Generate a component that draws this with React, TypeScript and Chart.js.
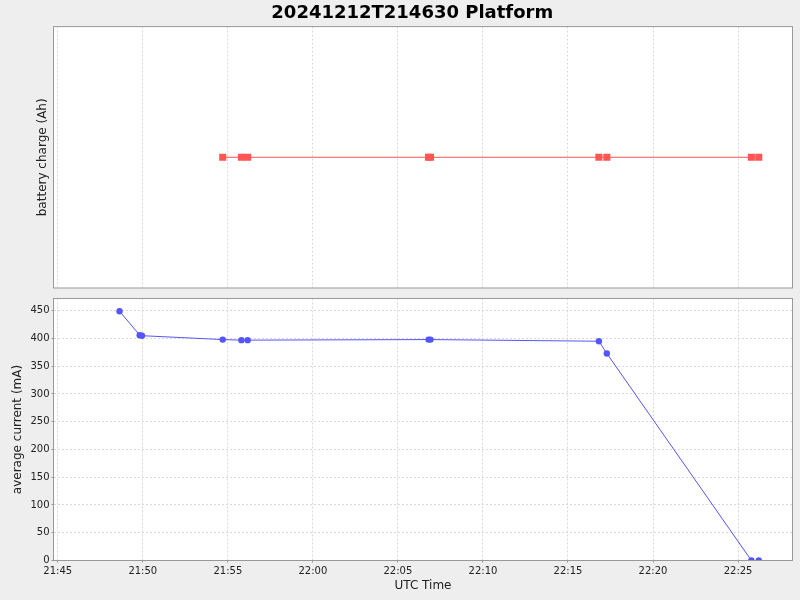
import React, { useRef, useEffect } from 'react';
import { Chart, registerables } from 'chart.js';

Chart.register(...registerables);

// bottom plot: average current per sample
const currentTimes = [
    '21:48:38', '21:49:49', '21:49:57', '21:54:42', '21:55:48', '21:56:10',
    '22:06:48', '22:06:55', '22:16:49', '22:17:17', '22:25:47', '22:26:13',
];
const currentValues = [449, 406, 405, 398, 397, 397, 398, 398, 395, 373, 0, 0];

// top plot: battery charge (constant, no tick labels in the original)
const chargeTimes = [
    '21:54:42', '21:55:48', '21:56:10', '22:06:48', '22:06:55',
    '22:16:49', '22:17:17', '22:25:47', '22:26:13',
];
const chargeValues = [0, 0, 0, 0, 0, 0, 0, 0, 0];

const xStart = '21:44:45';
const xEnd = '22:28:12';
const xTickStep = 300; // seconds
const currentMax = 472;
const currentStep = 50;

const toSec = (t: string) => {
    const [h, m, s] = t.split(':').map(Number);
    return h * 3600 + m * 60 + (s || 0);
};
const fmtTime = (v: number) => {
    const h = Math.floor(v / 3600);
    const m = Math.round((v % 3600) / 60);
    return `${h}:${String(m).padStart(2, '0')}`;
};

const FONT = 'DejaVu Sans';
const TEXT = '#222';
const AXIS = '#999';
const GRID = '#d8d8d8';

// white plot area + grey outline, like the original
const plotFrame = {
    id: 'plotFrame',
    beforeDraw(chart: any) {
        const { ctx, chartArea: a } = chart;
        ctx.save();
        ctx.fillStyle = '#ffffff';
        ctx.fillRect(a.left, a.top, a.right - a.left, a.bottom - a.top);
        ctx.restore();
    },
    afterDraw(chart: any) {
        const { ctx, chartArea: a } = chart;
        ctx.save();
        ctx.strokeStyle = AXIS;
        ctx.lineWidth = 1;
        ctx.strokeRect(a.left, a.top, a.right - a.left, a.bottom - a.top);
        ctx.restore();
    },
};

const gridOpts = (ticks: boolean) => ({
    display: true,
    color: GRID,
    drawTicks: ticks,
    tickLength: 2,
    tickColor: AXIS,
    tickBorderDash: [],
});

const TopChart: React.FC = () => {
    const canvasRef = useRef<HTMLCanvasElement>(null);
    const chartRef = useRef<Chart | null>(null);

    useEffect(() => {
        if (chartRef.current) chartRef.current.destroy();
        if (!canvasRef.current) return;

        chartRef.current = new Chart(canvasRef.current, {
            type: 'line',
            data: {
                datasets: [{
                    label: 'battery charge',
                    data: chargeTimes.map((t, i) => ({ x: toSec(t), y: chargeValues[i] })),
                    borderColor: '#ff5555',
                    backgroundColor: '#ff5555',
                    borderWidth: 1,
                    pointStyle: 'rect',
                    pointRadius: 5,
                    pointBorderWidth: 0,
                    clip: 0,
                }],
            },
            options: {
                animation: false,
                responsive: true,
                maintainAspectRatio: false,
                layout: { padding: { left: 32, right: 7.5, top: 0, bottom: 0 } },
                plugins: {
                    legend: { display: false },
                    tooltip: { enabled: false },
                    title: {
                        display: true,
                        text: '20241212T214630 Platform',
                        color: '#000',
                        font: { family: FONT, size: 18, weight: 'bold' },
                        padding: { top: 3, bottom: 2 },
                    },
                },
                scales: {
                    x: {
                        type: 'linear',
                        min: toSec(xStart),
                        max: toSec(xEnd),
                        grid: gridOpts(false),
                        border: { display: false, dash: [2, 2] },
                        ticks: { display: false, stepSize: xTickStep, includeBounds: false },
                        afterFit: (s: any) => { s.height = 0; },
                    },
                    y: {
                        min: -1,
                        max: 1,
                        grid: { display: false },
                        border: { display: false },
                        ticks: { display: false },
                        title: {
                            display: true,
                            text: 'battery charge (Ah)',
                            color: TEXT,
                            font: { family: FONT, size: 12 },
                            padding: { top: 4, bottom: 4 },
                        },
                        afterFit: (s: any) => { s.width = 21.5; },
                    },
                },
            },
            plugins: [plotFrame],
        });

        return () => { if (chartRef.current) chartRef.current.destroy(); };
    }, []);

    return <canvas ref={canvasRef}></canvas>;
};

const BottomChart: React.FC = () => {
    const canvasRef = useRef<HTMLCanvasElement>(null);
    const chartRef = useRef<Chart | null>(null);

    useEffect(() => {
        if (chartRef.current) chartRef.current.destroy();
        if (!canvasRef.current) return;

        chartRef.current = new Chart(canvasRef.current, {
            type: 'line',
            data: {
                datasets: [{
                    label: 'average current',
                    data: currentTimes.map((t, i) => ({ x: toSec(t), y: currentValues[i] })),
                    borderColor: '#5555ff',
                    backgroundColor: '#5555ff',
                    borderWidth: 1,
                    pointStyle: 'circle',
                    pointRadius: 3.2,
                    pointBorderWidth: 0,
                    clip: 0,
                }],
            },
            options: {
                animation: false,
                responsive: true,
                maintainAspectRatio: false,
                layout: { padding: { left: 7, right: 7.5, top: 8.5, bottom: 2.5 } },
                plugins: {
                    legend: { display: false },
                    tooltip: { enabled: false },
                },
                scales: {
                    x: {
                        type: 'linear',
                        min: toSec(xStart),
                        max: toSec(xEnd),
                        grid: gridOpts(true),
                        border: { display: false, dash: [2, 2] },
                        ticks: {
                            stepSize: xTickStep,
                            includeBounds: false,
                            autoSkip: false,
                            maxRotation: 0,
                            padding: 3,
                            color: TEXT,
                            font: { family: FONT, size: 10 },
                            callback: (v: any) => fmtTime(Number(v)),
                        },
                        title: {
                            display: true,
                            text: 'UTC Time',
                            color: TEXT,
                            font: { family: FONT, size: 12 },
                            padding: { top: 0, bottom: 4 },
                        },
                        afterFit: (s: any) => { s.height = 37; },
                    },
                    y: {
                        min: 0,
                        max: currentMax,
                        grid: gridOpts(true),
                        border: { display: false, dash: [2, 2] },
                        ticks: {
                            stepSize: currentStep,
                            includeBounds: false,
                            padding: 2,
                            color: TEXT,
                            font: { family: FONT, size: 10 },
                        },
                        title: {
                            display: true,
                            text: 'average current (mA)',
                            color: TEXT,
                            font: { family: FONT, size: 12 },
                            padding: { top: 4, bottom: 4 },
                        },
                        afterFit: (s: any) => { s.width = 46.5; },
                    },
                },
            },
            plugins: [plotFrame],
        });

        return () => { if (chartRef.current) chartRef.current.destroy(); };
    }, []);

    return <canvas ref={canvasRef}></canvas>;
};

const App: React.FC = () => (
    <div style={{ position: 'fixed', left: 0, top: 0, width: 800, height: 600, background: '#eeeeee' }}>
        <div style={{ position: 'absolute', left: 0, top: 0, width: 800, height: 293 }}>
            <TopChart />
        </div>
        <div style={{ position: 'absolute', left: 0, top: 290, width: 800, height: 310 }}>
            <BottomChart />
        </div>
    </div>
);

export default App;
